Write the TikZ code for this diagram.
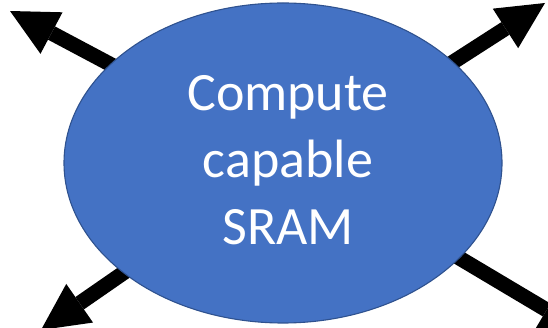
\documentclass[tikz,border=0pt]{standalone}
\usepackage{fontspec}
\setmainfont{Carlito}
\usetikzlibrary{arrows.meta,shapes.geometric}
\definecolor{blockfill}{HTML}{4472C4}
\definecolor{blockedge}{HTML}{2F528F}
\tikzset{
  blob/.style={ellipse, draw=blockedge, line width=1.1pt, fill=blockfill,
    minimum width=438pt, minimum height=320pt, inner sep=0pt},
  blobtext/.style={text=white, align=center, font=\fontsize{54}{67}\selectfont},
  outarrow/.style={line width=15pt, black,
    -{Triangle[length=47pt,width=47pt,line width=0pt]}}
}
\begin{document}
\begin{tikzpicture}[x=1pt,y=-1pt]
  \useasboundingbox (0,0) rectangle (548,328);
  \begin{scope}
    \clip (0,0) rectangle (548,328);
    % arrow start points hidden behind the ellipse, and their tips
    \coordinate (s1) at (200,112);
    \coordinate (t1) at (10,11);
    \coordinate (s2) at (335,138);
    \coordinate (t2) at (545,3);
    \coordinate (s3) at (246,188);
    \coordinate (t3) at (41,330);
    \coordinate (s4) at (372,206);
    \coordinate (t4) at (587,334);
    \draw[outarrow] (s1) -- (t1);
    \draw[outarrow] (s2) -- (t2);
    \draw[outarrow] (s3) -- (t3);
    \draw[outarrow] (s4) -- (t4);
    \node[blob] (sram) at (283,163) {};
  \end{scope}
  \node[blobtext] (label) at (288,160) {Compute\\capable\\SRAM};
\end{tikzpicture}
\end{document}
